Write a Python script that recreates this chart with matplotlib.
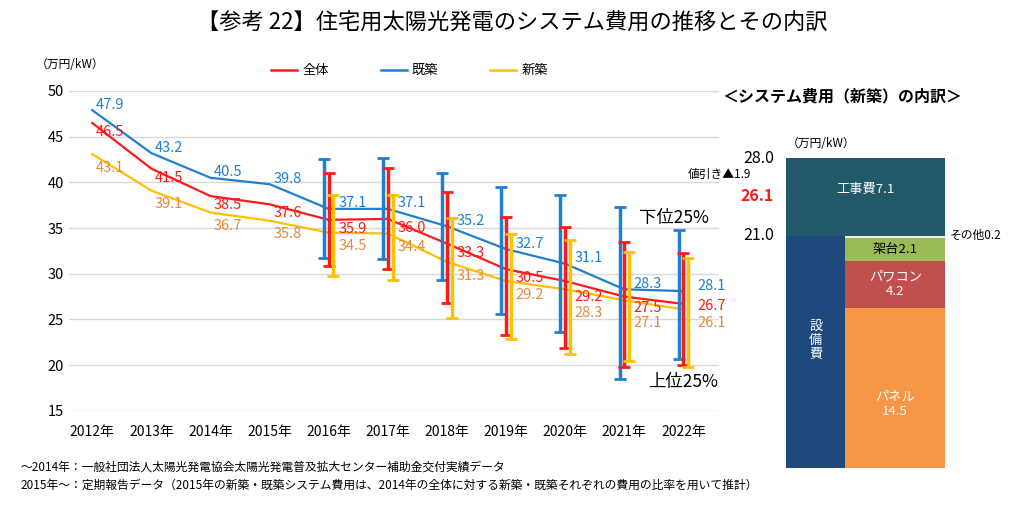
import numpy as np
import matplotlib.pyplot as plt

plt.rcParams['font.family'] = ['Noto Sans CJK JP', 'DejaVu Sans']

years = np.arange(2012, 2023)
year_labels = [f"{y}年" for y in years]
total = [46.5, 41.5, 38.5, 37.6, 35.9, 36.0, 33.3, 30.5, 29.2, 27.5, 26.7]
existing = [47.9, 43.2, 40.5, 39.8, 37.1, 37.1, 35.2, 32.7, 31.1, 28.3, 28.1]
new = [43.1, 39.1, 36.7, 35.8, 34.5, 34.4, 31.3, 29.2, 28.3, 27.1, 26.1]

# 2016-2022: 下位25% / 上位25%
err_years = np.arange(2016, 2023)
existing_hi = [42.6, 42.7, 41.0, 39.5, 38.6, 37.3, 34.8]
existing_lo = [31.7, 31.6, 29.3, 25.6, 23.6, 18.5, 20.7]
total_hi = [41.0, 41.6, 38.9, 36.2, 35.1, 33.5, 32.3]
total_lo = [30.9, 30.5, 26.8, 23.3, 21.9, 19.8, 20.0]
new_hi = [38.6, 38.6, 36.1, 34.4, 33.7, 32.4, 31.7]
new_lo = [29.7, 29.3, 25.2, 22.9, 21.2, 20.4, 19.8]

# 内訳 (新築)
breakdown_total = 28.0
discount = 1.9
construction = 7.1
equipment = 21.0
panel, pcs, rack, other = 14.5, 4.2, 2.1, 0.2

RED, BLUE, YEL = '#ff1a1a', '#1f7fd0', '#ffc000'
LBL_YEL = '#e8883a'

# label vertical offsets (style only)
dy_blue = [0.6] * 11
dy_red = [-1.0] * 8 + [-1.8, -1.2, -0.2]
dy_yel = [-1.5] * 8 + [-2.6, -2.5, -1.5]

fig = plt.figure(figsize=(10.24, 5.2), dpi=100)
fig.text(0.5, 0.955, '【参考 22】住宅用太陽光発電のシステム費用の推移とその内訳',
         ha='center', va='center', fontsize=16)

ax = fig.add_axes([0.067, 0.21, 0.635, 0.615])
series = [(existing, existing_hi, existing_lo, BLUE, BLUE, -0.08, dy_blue),
          (total, total_hi, total_lo, RED, RED, 0.0, dy_red),
          (new, new_hi, new_lo, YEL, LBL_YEL, 0.08, dy_yel)]
for vals, hi, lo, c, lc, off, dys in series:
    ax.plot(years, vals, color=c, lw=1.6, zorder=3)
    v = np.array(vals)[years >= 2016]
    ax.errorbar(err_years + off, v, yerr=[v - np.array(lo), np.array(hi) - v],
                fmt='none', ecolor=c, elinewidth=2.5, capsize=4, capthick=2, zorder=4)
    for x, y, dy in zip(years, vals, dys):
        if x == 2022:
            xo = 0.24
        elif x >= 2016:
            xo = 0.16
        else:
            xo = 0.06
        ax.text(x + xo, y + dy, f"{y:.1f}", color=lc, fontsize=10.5,
                ha='left', va='center', zorder=5)

ax.set_xlim(2011.6, 2022.6)
ax.set_ylim(15, 50)
ax.set_yticks(range(15, 51, 5))
ax.set_xticks(years)
ax.set_xticklabels(year_labels, fontsize=10)
ax.tick_params(axis='y', labelsize=10.5, length=0)
ax.tick_params(axis='x', length=0, pad=10)
ax.grid(axis='y', color='#d9d9d9', lw=1)
for s in ax.spines.values():
    s.set_visible(False)
ax.text(2021.25, 36.1, '下位25%', fontsize=12.5, ha='left', va='center')
ax.text(2021.4, 18.2, '上位25%', fontsize=12.5, ha='left', va='center')
fig.text(0.035, 0.87, '（万円/kW）', fontsize=8.5)

# legend
for i, (lab, c) in enumerate([('全体', RED), ('既築', BLUE), ('新築', YEL)]):
    x0 = 0.265 + i * 0.107
    fig.add_artist(plt.Line2D([x0, x0 + 0.025], [0.865, 0.865], color=c, lw=1.8))
    fig.text(x0 + 0.03, 0.865, lab, fontsize=9.5, va='center')

fig.text(0.02, 0.095, '〜2014年：一般社団法人太陽光発電協会太陽光発電普及拡大センター補助金交付実績データ', fontsize=8.5)
fig.text(0.02, 0.06, '2015年〜：定期報告データ（2015年の新築・既築システム費用は、2014年の全体に対する新築・既築それぞれの費用の比率を用いて推計）', fontsize=8.5)

# right panel
fig.text(0.705, 0.805, '＜システム費用（新築）の内訳＞', fontsize=11.5, fontweight='bold')
ax2 = fig.add_axes([0.768, 0.10, 0.155, 0.596])
ax2.set_xlim(0, 1)
ax2.set_ylim(0, breakdown_total)
ax2.axis('off')
ax2.bar(0.5, construction, width=1, bottom=equipment, color='#215968')
ax2.bar(0.185, equipment, width=0.37, bottom=0, color='#1f497d')
bottom = 0
for val, col in [(panel, '#f79646'), (pcs, '#c0504d'), (rack, '#9bbb59'), (other, '#ebf1de')]:
    ax2.bar(0.685, val, width=0.63, bottom=bottom, color=col)
    bottom += val
ax2.text(0.5, equipment + construction / 2 + 0.6, f'工事費{construction}', color='white',
         ha='center', va='center', fontsize=9.5)
ax2.text(0.185, 11.5, '設\n備\n費', color='white', ha='center', va='center', fontsize=9.5, linespacing=1.1)
ax2.text(0.685, panel / 2 - 1.5, f'パネル\n{panel}', color='white', ha='center', va='center', fontsize=9.5)
ax2.text(0.685, panel + pcs / 2, f'パワコン\n{pcs}', color='white', ha='center', va='center', fontsize=9.5)
ax2.text(0.685, panel + pcs + rack / 2, f'架台{rack}', color='black', ha='center', va='center', fontsize=9.5)
ax2.text(1.03, equipment, f'その他{other}', ha='left', va='center', fontsize=8.5)
ax2.text(-0.08, breakdown_total, f'{breakdown_total:.1f}', ha='right', va='center', fontsize=11.5)
ax2.text(-0.08, equipment, f'{equipment:.1f}', ha='right', va='center', fontsize=11.5)
ax2.text(-0.08, breakdown_total - discount - 1.5, f'{breakdown_total - discount:.1f}', color=RED,
         ha='right', va='center', fontsize=11.5, fontweight='bold')
ax2.text(-0.22, breakdown_total - 1.5, f'値引き▲{discount}', ha='right', va='center', fontsize=8.5)
ax2.annotate('', xy=(-0.2, breakdown_total - 2.6), xytext=(-0.2, breakdown_total - 0.6),
             arrowprops=dict(arrowstyle='->', color='black', lw=1))
ax2.text(0.0, breakdown_total + 0.7, '（万円/kW）', ha='left', va='bottom', fontsize=8.5)

fig.savefig('out.png', dpi=100)
